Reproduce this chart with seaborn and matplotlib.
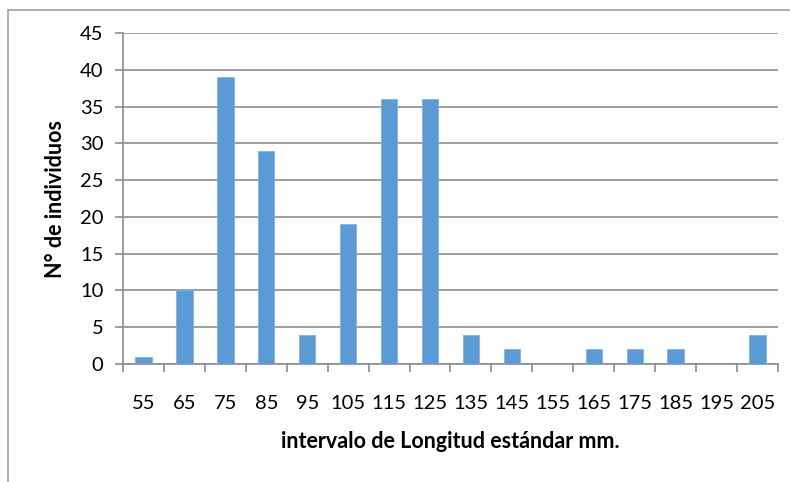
import matplotlib
matplotlib.use("Agg")
import matplotlib.pyplot as plt
import seaborn as sns
import pandas as pd
import numpy as np
from matplotlib.lines import Line2D

categories = ["55", "65", "75", "85", "95", "105", "115", "125", "135", "145",
              "155", "165", "175", "185", "195", "205"]
counts = [1, 10, 39, 29, 4, 19, 36, 36, 4, 2, 0, 2, 2, 2, 0, 4]
yticks = [0, 5, 10, 15, 20, 25, 30, 35, 40, 45]
xlabel = "intervalo de Longitud estándar mm."
ylabel = "N° de individuos"

sns.set_theme(style="white")
plt.rcParams['font.family'] = ['Lato', 'DejaVu Sans']

df = pd.DataFrame({"cat": categories, "n": counts})

fig = plt.figure(figsize=(7.9, 4.82), dpi=100)
W, H = 790, 482
ax = fig.add_axes([123 / W, 1 - 364 / H, (778 - 123) / W, (364 - 33) / H])

sns.barplot(data=df, x="cat", y="n", color="#5B9BD5", saturation=1,
            width=0.4, ax=ax, zorder=3, edgecolor="#7FB2E0", linewidth=0.6)

ax.set_xlim(-0.5, len(categories) - 0.5)
ax.set_ylim(0, 45)
ax.set_yticks(yticks)
ax.grid(axis="y", color="#8C8C8C", linewidth=1.2, zorder=0)
ax.set_axisbelow(True)

for s in ["top", "right"]:
    ax.spines[s].set_visible(False)
for s in ["left", "bottom"]:
    ax.spines[s].set_color("#8C8C8C")
    ax.spines[s].set_linewidth(1.2)

ax.tick_params(axis="y", which="major", direction="out", length=6, width=1.2,
               color="#8C8C8C", labelsize=14.5, pad=8, left=True, labelcolor="black")
ax.tick_params(axis="x", which="major", length=0, labelsize=14.5, pad=22,
               labelcolor="black")
ax.set_xticks(np.arange(-0.5, len(categories), 1.0), minor=True)
ax.tick_params(axis="x", which="minor", direction="out", length=6, width=1.2,
               color="#8C8C8C", bottom=True)

ax.set_xlabel(xlabel, fontsize=15.5, fontweight="bold", labelpad=14, color="black")
ax.set_ylabel(ylabel, fontsize=15.5, fontweight="bold", labelpad=10, color="black")

# chart frame (left and top visible in image)
fig.add_artist(Line2D([8 / W, 8 / W], [0, 1 - 10 / H], color="#A0A0A0", lw=1.2))
fig.add_artist(Line2D([8 / W, 1], [1 - 10 / H, 1 - 10 / H], color="#A0A0A0", lw=1.2))

fig.savefig("out.png", dpi=100)
